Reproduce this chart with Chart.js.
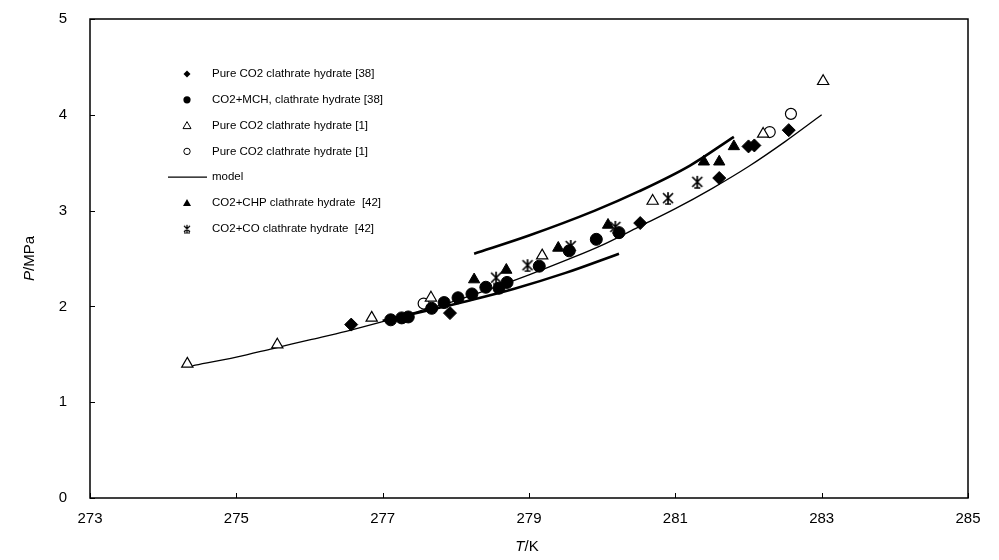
<!DOCTYPE html>
<html>
<head>
<meta charset="utf-8">
<script src="https://cdn.jsdelivr.net/npm/chart.js@4.4.0/dist/chart.umd.min.js"></script>
<style>
  html, body { margin: 0; padding: 0; background: #fff; }
  #wrap { width: 999px; height: 560px; position: relative; }
</style>
</head>
<body>
<div id="wrap"><canvas id="chart"></canvas></div>
<script>
// axis ticks
const tempTicks = [273, 275, 277, 279, 281, 283, 285];
const presTicks = [0, 1, 2, 3, 4, 5];

// Pure CO2 clathrate hydrate [38]  (diamonds)
const pure38T = [276.57, 277.92, 280.52, 281.60, 282.00, 282.08, 282.55];
const pure38P = [1.81, 1.93, 2.87, 3.34, 3.67, 3.68, 3.84];

// CO2+MCH clathrate hydrate [38]  (filled circles)
const mchT = [277.11, 277.26, 277.35, 277.67, 277.84, 278.03, 278.22, 278.41, 278.59, 278.70, 279.14, 279.55, 279.92, 280.23];
const mchP = [1.86, 1.88, 1.89, 1.98, 2.04, 2.09, 2.13, 2.20, 2.19, 2.25, 2.42, 2.58, 2.70, 2.77];

// Pure CO2 clathrate hydrate [1]  (open triangles)
const pure1TriT = [274.33, 275.56, 276.85, 277.66, 279.18, 280.69, 282.20, 283.02];
const pure1TriP = [1.40, 1.60, 1.88, 2.09, 2.53, 3.10, 3.80, 4.35];

// Pure CO2 clathrate hydrate [1]  (open circles)
const pure1CircT = [277.56, 282.29, 282.58];
const pure1CircP = [2.03, 3.82, 4.01];

// CO2+CHP clathrate hydrate [42]  (filled triangles)
const chpT = [278.25, 278.69, 279.40, 280.08, 281.39, 281.60, 281.80];
const chpP = [2.28, 2.38, 2.61, 2.85, 3.51, 3.51, 3.67];

// CO2+CO clathrate hydrate [42]  (asterisks)
const coT = [278.55, 278.98, 279.57, 280.18, 280.90, 281.30];
const coP = [2.30, 2.43, 2.63, 2.83, 3.13, 3.30];

// model curve (thin)
const modelT = [274.4, 275.0, 275.5, 276.0, 276.5, 277.0, 277.5, 278.0, 278.5, 279.0, 279.5, 280.0, 280.5, 281.0, 281.5, 282.0, 282.5, 283.0];
const modelP = [1.38, 1.47, 1.56, 1.65, 1.74, 1.84, 1.95, 2.06, 2.19, 2.33, 2.48, 2.64, 2.83, 3.02, 3.23, 3.46, 3.72, 4.00];

// thick curves
const upperT = [278.25, 279.0, 279.9, 280.5, 281.2, 281.8];
const upperP = [2.55, 2.74, 3.00, 3.20, 3.47, 3.77];
const lowerT = [277.0, 277.6, 278.2, 278.8, 279.5, 280.23];
const lowerP = [1.85, 1.955, 2.065, 2.185, 2.35, 2.55];

const FONT = '"Liberation Sans", Arial, sans-serif';

function pts(xs, ys) {
    return xs.map((x, i) => ({ x: x, y: ys[i] }));
}

function makeStar(size, lw) {
    const c = document.createElement('canvas');
    c.width = size; c.height = size;
    const g = c.getContext('2d');
    g.strokeStyle = '#000';
    g.lineWidth = lw;
    const m = size / 2, e = 1;
    g.beginPath();
    g.moveTo(m, e); g.lineTo(m, size - e);
    g.moveTo(e + 1, e + 1); g.lineTo(size - e - 1, size - e - 1);
    g.moveTo(size - e - 1, e + 1); g.lineTo(e + 1, size - e - 1);
    g.moveTo(m - 3, size - e); g.lineTo(m + 3, size - e);
    g.stroke();
    return c;
}

const starBig = makeStar(14, 1.7);
const starSmall = makeStar(10, 1.2);

// legend entries: [datasetIndex]
const legendOrder = [0, 1, 2, 3, 4, 5, 6];

function drawLegendMark(ctx, kind, x, y) {
    ctx.save();
    ctx.fillStyle = '#000';
    ctx.strokeStyle = '#000';
    ctx.lineWidth = 1;
    ctx.beginPath();
    if (kind === 'diamond') {
        const r = 3.5;
        ctx.moveTo(x, y - r); ctx.lineTo(x + r, y); ctx.lineTo(x, y + r); ctx.lineTo(x - r, y);
        ctx.closePath(); ctx.fill();
    } else if (kind === 'circle') {
        ctx.arc(x, y, 3.6, 0, Math.PI * 2); ctx.fill();
    } else if (kind === 'ocircle') {
        ctx.arc(x, y, 3.2, 0, Math.PI * 2); ctx.stroke();
    } else if (kind === 'otri' || kind === 'tri') {
        ctx.moveTo(x, y - 4); ctx.lineTo(x + 4, y + 3); ctx.lineTo(x - 4, y + 3); ctx.closePath();
        if (kind === 'tri') ctx.fill(); else ctx.stroke();
    } else if (kind === 'line') {
        ctx.lineWidth = 1.2;
        ctx.moveTo(x - 19, y); ctx.lineTo(x + 20, y); ctx.stroke();
    } else if (kind === 'star') {
        ctx.drawImage(starSmall, x - 5, y - 5);
    }
    ctx.restore();
}

const framePlugin = {
    id: 'frame',
    afterDraw(chart) {
        const ctx = chart.ctx;
        const a = chart.chartArea;
        const xs = chart.scales.x, ys = chart.scales.y;
        ctx.save();
        ctx.strokeStyle = '#000';
        ctx.lineWidth = 1.5;
        ctx.strokeRect(a.left, a.top, a.right - a.left, a.bottom - a.top);
        // inward tick marks
        ctx.lineWidth = 1;
        ctx.beginPath();
        tempTicks.forEach(v => {
            const px = Math.round(xs.getPixelForValue(v)) + 0.5;
            ctx.moveTo(px, a.bottom); ctx.lineTo(px, a.bottom - 5);
        });
        presTicks.forEach(v => {
            const py = Math.round(ys.getPixelForValue(v)) + 0.5;
            ctx.moveTo(a.left, py); ctx.lineTo(a.left + 5, py);
        });
        ctx.stroke();

        // axis titles with italic symbol
        ctx.fillStyle = '#000';
        ctx.textBaseline = 'middle';
        ctx.textAlign = 'left';
        const it = 'italic 15px ' + FONT, up = '15px ' + FONT;
        ctx.font = it; const wT = ctx.measureText('T').width;
        ctx.font = up; const wK = ctx.measureText('/K').width;
        let x0 = 527 - (wT + wK) / 2;
        ctx.font = it; ctx.fillText('T', x0, 547);
        ctx.font = up; ctx.fillText('/K', x0 + wT, 547);

        ctx.save();
        ctx.translate(30, (a.top + a.bottom) / 2);
        ctx.rotate(-Math.PI / 2);
        ctx.font = it; const wP = ctx.measureText('P').width;
        ctx.font = up; const wM = ctx.measureText('/MPa').width;
        x0 = -(wP + wM) / 2;
        ctx.font = it; ctx.fillText('P', x0, 0);
        ctx.font = up; ctx.fillText('/MPa', x0 + wP, 0);
        ctx.restore();

        // legend inside the plot
        ctx.font = '11.5px ' + FONT;
        ctx.textBaseline = 'middle';
        legendOrder.forEach((di, k) => {
            const ds = chart.data.datasets[di];
            const y = 74 + k * 25.8;
            drawLegendMark(ctx, ds.legendKind, 187, y);
            ctx.fillStyle = '#000';
            ctx.fillText(ds.label, 212, y);
        });
        ctx.restore();
    }
};

const ctx = document.getElementById('chart').getContext('2d');
const chart = new Chart(ctx, {
    type: 'scatter',
    data: {
        datasets: [{
            label: 'Pure CO2 clathrate hydrate [38]',
            legendKind: 'diamond',
            data: pts(pure38T, pure38P),
            pointStyle: 'rectRot',
            pointRadius: 6.5,
            backgroundColor: '#000',
            borderColor: '#000',
            borderWidth: 1
        }, {
            label: 'CO2+MCH, clathrate hydrate [38]',
            legendKind: 'circle',
            data: pts(mchT, mchP),
            pointStyle: 'circle',
            pointRadius: 6,
            backgroundColor: '#000',
            borderColor: '#000',
            borderWidth: 1
        }, {
            label: 'Pure CO2 clathrate hydrate [1]',
            legendKind: 'otri',
            data: pts(pure1TriT, pure1TriP),
            pointStyle: 'triangle',
            pointRadius: 6.5,
            backgroundColor: '#fff',
            borderColor: '#000',
            borderWidth: 1.2
        }, {
            label: 'Pure CO2 clathrate hydrate [1]',
            legendKind: 'ocircle',
            data: pts(pure1CircT, pure1CircP),
            pointStyle: 'circle',
            pointRadius: 5.5,
            backgroundColor: '#fff',
            borderColor: '#000',
            borderWidth: 1.2
        }, {
            label: 'model',
            legendKind: 'line',
            type: 'line',
            data: pts(modelT, modelP),
            borderColor: '#000',
            borderWidth: 1.3,
            pointRadius: 0,
            fill: false,
            cubicInterpolationMode: 'monotone'
        }, {
            label: 'CO2+CHP clathrate hydrate  [42]',
            legendKind: 'tri',
            data: pts(chpT, chpP),
            pointStyle: 'triangle',
            pointRadius: 6.5,
            backgroundColor: '#000',
            borderColor: '#000',
            borderWidth: 1
        }, {
            label: 'CO2+CO clathrate hydrate  [42]',
            legendKind: 'star',
            data: pts(coT, coP),
            pointStyle: starBig,
            backgroundColor: '#000',
            borderColor: '#000'
        }, {
            label: 'upper',
            type: 'line',
            data: pts(upperT, upperP),
            borderColor: '#000',
            borderWidth: 2.6,
            pointRadius: 0,
            fill: false,
            cubicInterpolationMode: 'monotone'
        }, {
            label: 'lower',
            type: 'line',
            data: pts(lowerT, lowerP),
            borderColor: '#000',
            borderWidth: 2.6,
            pointRadius: 0,
            fill: false,
            cubicInterpolationMode: 'monotone'
        }]
    },
    options: {
        responsive: true,
        maintainAspectRatio: false,
        animation: false,
        layout: { padding: { left: 0, right: 31, top: 19, bottom: 0 } },
        plugins: {
            legend: { display: false },
            tooltip: { enabled: false }
        },
        scales: {
            x: {
                type: 'linear',
                min: 273,
                max: 285,
                grid: { display: false, drawTicks: false },
                border: { display: false },
                afterBuildTicks: s => { s.ticks = tempTicks.map(v => ({ value: v })); },
                afterFit: s => { s.height = 62; s.paddingLeft = 0; s.paddingRight = 0; },
                ticks: {
                    padding: 12,
                    color: '#000',
                    maxRotation: 0,
                    font: { family: FONT, size: 15 }
                }
            },
            y: {
                type: 'linear',
                min: 0,
                max: 5,
                grid: { display: false, drawTicks: false },
                border: { display: false },
                afterBuildTicks: s => { s.ticks = presTicks.map(v => ({ value: v })); },
                afterFit: s => { s.width = 90; s.paddingTop = 0; s.paddingBottom = 0; },
                ticks: {
                    padding: 23,
                    color: '#000',
                    font: { family: FONT, size: 15 }
                }
            }
        }
    },
    plugins: [framePlugin]
});
</script>
</body>
</html>
